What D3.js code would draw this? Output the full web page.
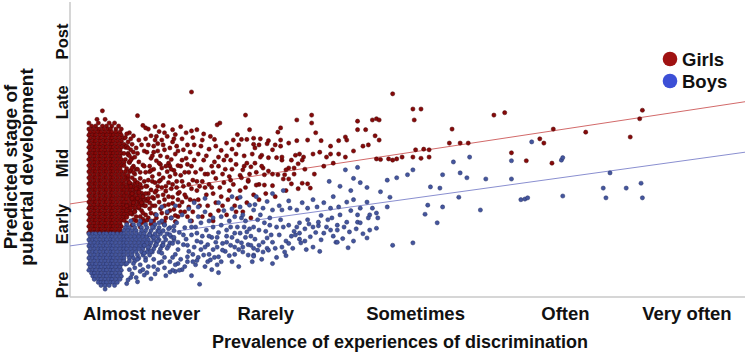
<!DOCTYPE html>
<html>
<head>
<meta charset="utf-8">
<script src="https://cdn.jsdelivr.net/npm/d3@7"></script>
<style>
  body { margin: 0; background: #fff; }
  svg { display: block; }
  text { font-family: "Liberation Sans", Arial, sans-serif; font-weight: bold; fill: #111; }
</style>
</head>
<body>
<div id="chart"></div>
<script>
// axis labels
const xTickLabels = ["Almost never", "Rarely", "Sometimes", "Often", "Very often"];
const xTickValues = [1.03, 1.95, 3.06, 4.17, 5.07];
const yTickLabels = ["Pre", "Early", "Mid", "Late", "Post"];
const yTickValues = [1, 2, 3, 4, 5];

// fitted lines (value at x = 0.5 and x = 5.5)
const fitX = [0.5, 5.5];
const girlsFit = [2.33, 4.01];
const boysFit = [1.64, 3.18];

// dense block of girls near "almost never": [stage, [discrimination values]]
const girlsCoreRows = [
  [3.86, [.74]],
  [3.72, [.70, .76]],
  [3.66, [.64, .71, .79, .83]],
  [3.61, [.66, .69, .74, .77, .81, .86]],
  [3.56, [.64, .67, .70, .72, .75, .78, .80, .84, .88]],
  [3.51, [.65, .68, .71, .73, .76, .79, .81, .84, .87]],
  [3.46, [.64, .67, .69, .72, .75, .77, .80, .82, .85, .88]],
  [3.41, [.65, .68, .71, .73, .76, .79, .81, .84, .87, .90]],
  [3.36, [.64, .67, .69, .72, .75, .77, .80, .82, .85, .88]],
  [3.31, [.65, .68, .71, .73, .76, .79, .81, .84, .87, .90]],
  [3.26, [.64, .67, .69, .72, .75, .77, .80, .82, .85, .88, .91]],
  [3.21, [.65, .68, .71, .73, .76, .79, .81, .84, .87]],
  [3.16, [.64, .67, .69, .72, .75, .77, .80, .82, .85, .88, .90, .93]],
  [3.11, [.65, .68, .71, .73, .76, .79, .81, .84, .87]],
  [3.06, [.64, .67, .69, .72, .75, .77, .80, .82, .85, .88, .91]],
  [3.01, [.65, .68, .71, .73, .76, .79, .81, .84, .87, .90, .94]],
  [2.96, [.64, .67, .69, .72, .75, .77, .80, .82, .85, .88, .90]],
  [2.91, [.65, .68, .71, .73, .76, .79, .81, .84, .87, .92]],
  [2.86, [.64, .67, .69, .72, .75, .77, .80, .82, .85, .88, .91, .94]],
  [2.81, [.65, .68, .71, .73, .76, .79, .81, .84, .87, .90]],
  [2.76, [.64, .67, .69, .72, .75, .77, .80, .82, .85, .88, .91, .93, .96]],
  [2.71, [.65, .68, .71, .73, .76, .79, .81, .84, .87, .90, .93]],
  [2.66, [.64, .67, .69, .72, .75, .77, .80, .82, .85, .88, .90, .93, .95, .98]],
  [2.61, [.65, .68, .71, .73, .76, .79, .81, .84, .87, .90, .92, .95, .97, 1.00]],
  [2.56, [.64, .67, .69, .72, .75, .77, .80, .82, .85, .88, .90, .93, .95, .98, 1.01]],
  [2.51, [.65, .68, .71, .73, .76, .79, .81, .84, .87, .90, .92, .95, .97, 1.00, 1.03]],
  [2.46, [.64, .67, .69, .72, .75, .77, .80, .82, .85, .88, .90, .93, .95, .98, 1.01, 1.04]],
  [2.41, [.65, .68, .71, .73, .76, .79, .81, .84, .87, .90, .92, .95, .98, 1.00, 1.03, 1.06]],
  [2.36, [.64, .67, .69, .72, .75, .77, .80, .82, .85, .88, .90, .93, .96, .98, 1.01, 1.04]],
  [2.31, [.65, .68, .71, .73, .76, .79, .81, .84, .87, .90, .92, .95, .97, 1.00, 1.03]],
  [2.26, [.64, .67, .69, .72, .75, .77, .80, .82, .85, .88, .90, .93, .95, .98, 1.01]],
  [2.21, [.65, .68, .71, .73, .76, .79, .81, .84, .87, .90, .92, .95, .98]],
  [2.16, [.64, .67, .69, .72, .75, .77, .80, .82, .85, .88, .90, .93, .96]],
  [2.11, [.65, .68, .71, .73, .76, .79, .81, .84, .87, .90, .92]],
  [2.06, [.64, .67, .69, .72, .75, .77, .80, .82, .85, .88, .90]],
  [2.01, [.65, .68, .71, .73, .76, .79, .81, .84, .87]],
  [1.96, [.64, .67, .69, .72, .75, .77, .80, .82, .85, .88]],
  [1.91, [.65, .68, .71, .73, .76, .79, .81, .84, .87]],
  [1.86, [.64, .67, .69, .72, .75, .77, .80, .82, .85, .88]]
];

// remaining girls: [discrimination, stage]
const girlsPoints = [
  [0.91,3.42],[0.93,3.35],[0.92,3.28],[0.95,3.22],[0.93,3.14],[0.96,3.08],[0.94,3.02],[0.97,2.95],[0.95,2.88],[0.98,2.82],
  [0.96,3.31],[0.99,3.25],[1.00,3.16],[0.98,3.10],[1.01,3.02],[0.99,2.90],[1.02,2.75],[1.00,2.68],[1.03,2.60],[1.01,2.52],
  [1.04,2.45],[1.02,2.38],[1.05,2.30],[1.03,2.22],[1.06,2.15],[1.04,2.08],[0.97,3.45],[1.01,3.38],[0.94,3.50],[1.03,3.30],
  [1.05,3.20],[1.04,2.97],[1.06,2.85],[1.05,2.70],[1.07,2.62],[1.08,2.50],[1.07,2.38],[1.09,2.25],[1.08,2.10],[1.10,2.00],
  [0.99,2.05],[0.96,1.98],[1.02,1.95],[0.92,2.02],
  [0.92,3.48],[0.95,3.40],[0.97,3.18],[0.94,3.12],[0.96,2.92],[0.93,2.80],[0.98,2.72],[0.95,2.62],[0.99,2.58],[0.96,2.50],
  [1.00,2.42],[0.97,2.35],[1.01,2.28],[0.98,2.20],[1.02,2.12],[0.99,2.12],[1.03,2.02],
  [1.08,3.30],[1.07,3.18],[1.10,3.08],[1.09,2.86],[1.11,2.70],[1.10,2.56],[1.12,2.42],[1.11,2.30],[1.13,2.16],[1.12,2.05],
  [1.15,3.32],[1.17,3.12],[1.18,2.92],[1.19,2.48],[1.20,2.30],[1.21,2.10],[1.23,3.00],[1.24,2.78],[1.26,2.44],[1.27,2.24],
  [1.29,3.28],[1.30,2.50],[1.31,2.30],[1.14,3.44],[1.18,3.38],[1.20,3.22],[1.22,2.86],[1.15,2.62],[1.25,2.58],[1.28,2.04],
  [1.17,2.72],[1.06,2.50],[1.05,2.04],[1.06,2.62],[1.08,2.42],
  [1.10,3.45],[1.13,3.38],[1.12,3.28],[1.15,3.20],[1.11,3.12],[1.14,3.04],[1.17,2.98],[1.12,2.90],[1.16,2.82],[1.19,2.76],
  [1.13,2.68],[1.18,2.60],[1.21,2.54],[1.15,2.46],[1.20,2.40],[1.23,2.32],[1.17,2.25],[1.22,2.18],[1.25,2.10],[1.19,2.02],
  [1.26,3.35],[1.24,3.25],[1.28,3.15],[1.25,3.06],[1.30,2.96],[1.27,2.88],[1.32,2.80],[1.29,2.70],[1.34,2.62],[1.31,2.52],
  [1.36,2.44],[1.33,2.36],[1.38,2.28],[1.35,2.20],[1.30,2.12],[1.40,2.05],[1.22,3.44],[1.33,3.40],[1.37,3.30],[1.39,3.18],
  [1.36,3.08],[1.40,2.95],[1.38,2.85],[1.41,2.72],[1.40,2.58],[1.42,2.38],[1.16,3.52],[1.20,3.50],[1.08,3.56],[1.28,3.47],
  [1.11,2.78],[1.24,2.95],[1.26,2.65],[1.14,2.55],[1.09,2.95],[1.06,3.40],
  [0.93,3.25],[0.95,3.05],[0.97,2.85],[0.94,2.68],[0.96,2.42],[0.92,2.30],[0.95,2.18],[0.97,2.07],[1.00,2.90],[1.02,2.65],
  [1.03,2.35],[1.04,2.18],[1.06,2.30],[1.07,2.06],[1.09,2.35],[1.10,2.18],[1.11,2.44],[1.13,2.30],[1.14,2.10],[1.16,2.36],
  [1.18,2.18],[1.20,2.04],[1.21,2.62],[1.23,2.45],[1.24,2.22],[1.26,2.34],[1.28,2.14],[1.29,2.60],[1.30,2.40],[1.32,2.20],
  [1.33,2.70],[1.35,2.48],[1.37,2.12],[1.38,2.65],[1.39,2.40],[1.41,2.20],[1.43,2.85],[1.44,2.55],[1.46,2.30],[1.48,2.70],
  [1.49,3.05],[1.51,2.48],[1.53,2.65],[1.54,2.15],[1.56,2.85],[1.58,2.35],[1.60,3.10],[1.61,2.60],[1.63,2.30],[1.65,2.90],
  [1.67,2.40],[1.69,3.05],[1.71,2.65],[1.73,2.20],[1.75,3.30],[1.76,2.55],[1.79,2.95],[1.81,2.35],[1.83,2.82],[1.85,3.15],
  [1.12,3.18],[1.16,3.00],[1.19,3.30],[1.22,3.10],[1.25,2.90],[1.27,3.40],[1.30,3.20],[1.33,3.05],[1.35,2.85],[1.36,3.50],
  [1.41,3.42],[1.45,3.15],[1.48,3.38],[1.51,3.12],[1.58,3.28],[1.60,2.95],[1.71,3.38],[1.02,2.85],[1.05,2.95],[1.08,2.72],
  [1.10,2.88],[1.13,2.52],[1.16,2.70],[1.21,2.95],[1.23,2.68],[1.28,2.82],[1.32,2.95],[1.34,3.22],[1.37,2.98],[1.42,3.05],
  [1.46,2.62],[1.50,2.82],[1.55,2.60],[1.63,2.82],[1.69,2.72],[1.73,2.98],[1.90,2.40],[1.95,2.50],[2.02,2.45],[2.10,2.55],
  [2.16,2.82],[2.24,2.90],[2.31,2.82],[2.38,2.95],[2.45,3.00],
  [1.00,3.78],[1.06,3.58],[1.13,3.60],[1.19,3.62],[1.26,3.55],[1.32,3.60],[1.04,3.62],
  [1.40,4.17],[1.61,3.66],[1.59,3.63],[1.80,3.79],[1.83,3.55],
  [1.40,3.53],[1.44,3.55],[1.49,3.48],[1.54,3.44],[1.57,3.39],[1.66,3.33],[1.74,3.47],[1.77,3.39],[1.81,3.39],[1.86,3.31],
  [1.62,3.21],[1.66,3.12],[1.70,3.23],[1.73,3.15],[1.79,3.12],[1.64,3.05],[1.57,3.02],[1.53,3.23],[1.47,3.28],[1.42,3.30],
  [1.47,2.90],[1.52,2.82],[1.58,2.75],[1.64,2.68],[1.70,2.90],[1.76,2.80],[1.82,2.70],[1.50,2.60],[1.56,2.50],[1.62,2.45],
  [1.68,2.55],[1.74,2.42],[1.80,2.60],[1.86,2.48],[1.45,2.40],[1.52,2.30],[1.60,2.22],[1.48,2.12],[1.56,2.05],[1.66,2.15],
  [1.72,2.30],[1.78,2.20],[1.84,2.10],[1.88,2.85],[1.90,2.65],[1.44,2.70],[1.55,2.95],[1.68,2.78],
  [2.18,3.71],[2.29,3.66],[2.06,3.58],[2.29,3.79],[2.63,3.69],[2.74,3.71],[2.77,3.73],[2.79,3.71],[2.69,3.55],[2.63,3.55],
  [2.32,3.50],[2.26,3.38],[2.36,3.37],[2.04,3.51],[1.97,3.37],[2.06,3.38],[2.12,3.33],[1.91,3.40],[1.86,3.41],[1.90,3.30],
  [1.96,3.32],[2.02,3.30],[2.06,3.28],[2.00,3.22],[1.92,3.13],[1.87,3.25],[2.18,3.37],[2.43,3.28],[2.49,3.37],[2.54,3.43],
  [2.55,3.38],[2.76,3.45],[2.79,3.38],[2.71,3.30],[2.67,3.28],[2.60,3.20],[2.54,3.10],[2.49,3.15],[2.43,3.15],[2.40,3.10],
  [2.35,3.18],[2.30,3.15],[2.23,3.10],[2.20,3.15],[2.17,3.13],[2.14,3.05],[2.22,3.05],[2.19,2.99],[2.16,2.92],[2.12,2.92],
  [2.10,2.89],[2.09,2.81],[2.04,2.81],[2.00,2.82],[1.97,2.87],[1.94,2.81],[1.93,2.92],[1.92,2.95],[1.87,3.00],[1.84,2.94],
  [1.81,3.00],[1.78,2.89],[1.77,2.76],[1.82,2.72],[1.88,2.64],[1.94,2.64],[2.00,2.63],[2.12,2.74],[2.14,2.66],[2.22,2.67],
  [2.26,2.66],[2.28,2.59],[2.19,2.58],[2.08,2.74],[2.07,3.05],[2.07,3.10],[2.03,3.09],[1.97,3.09],[1.91,3.10],
  [2.89,4.14],[3.04,3.89],[3.10,3.89],[3.05,3.71],[3.33,3.56],[3.64,3.79],
  [2.77,3.07],[2.80,3.06],[2.86,3.07],[2.89,3.05],[2.92,3.07],[2.96,3.10],[3.04,3.10],[3.10,3.08],[3.12,3.23],[3.06,3.22],
  [3.16,3.10],[3.16,3.22],[3.31,3.33],[3.39,3.33],[3.45,3.33],
  [3.72,3.83],[4.74,3.87],[4.72,3.73],[4.08,3.56],[4.32,3.51],[4.65,3.43],[3.98,3.40],[4.01,3.33],[3.77,3.17],[3.88,3.04],
  [4.07,3.00]
];

// dense block of boys near "almost never": [stage, [discrimination values]]
const boysCoreRows = [
  [2.05, [.95, 1.02, 1.10, 1.18]],
  [1.99, [.92, .97, 1.01, 1.06, 1.13, 1.20]],
  [1.94, [.91, .94, .98, 1.03, 1.07, 1.12, 1.16, 1.24]],
  [1.89, [.90, .93, .96, .99, 1.03, 1.06, 1.10, 1.15, 1.19, 1.27]],
  [1.84, [.64, .67, .69, .72, .75, .77, .80, .82, .85, .88, .90, .93, .96, .99, 1.02, 1.05, 1.09, 1.13, 1.17, 1.22]],
  [1.79, [.65, .68, .71, .73, .76, .79, .81, .84, .87, .90, .92, .95, .98, 1.01, 1.04, 1.07, 1.11, 1.15, 1.20, 1.25]],
  [1.74, [.64, .67, .69, .72, .75, .77, .80, .82, .85, .88, .90, .93, .96, .99, 1.02, 1.05, 1.08, 1.12, 1.16, 1.21, 1.27]],
  [1.69, [.65, .68, .71, .73, .76, .79, .81, .84, .87, .90, .92, .95, .98, 1.01, 1.04, 1.07, 1.10, 1.14, 1.19, 1.24]],
  [1.64, [.64, .67, .69, .72, .75, .77, .80, .82, .85, .88, .90, .93, .96, .99, 1.02, 1.05, 1.09, 1.13, 1.18, 1.23]],
  [1.59, [.65, .68, .71, .73, .76, .79, .81, .84, .87, .90, .92, .95, .98, 1.01, 1.04, 1.08, 1.12, 1.17]],
  [1.54, [.64, .67, .69, .72, .75, .77, .80, .82, .85, .88, .90, .93, .96, .99, 1.03, 1.07, 1.11, 1.16]],
  [1.49, [.65, .68, .71, .73, .76, .79, .81, .84, .87, .90, .93, .96, 1.00, 1.04, 1.09]],
  [1.44, [.64, .67, .69, .72, .75, .77, .80, .82, .85, .88, .90, .94, .97, 1.01, 1.06]],
  [1.39, [.65, .68, .71, .73, .76, .79, .81, .84, .87, .90, .94, .98]],
  [1.34, [.64, .67, .69, .72, .75, .77, .80, .82, .85, .88, .91]],
  [1.29, [.65, .68, .71, .73, .76, .79, .81, .84, .87]],
  [1.24, [.64, .67, .69, .72, .75, .77, .80, .82, .85, .88]],
  [1.19, [.66, .68, .71, .73, .76, .79, .81, .84, .87]],
  [1.14, [.67, .69, .72, .75, .77, .80, .82, .85, .88]],
  [1.09, [.68, .71, .73, .76, .79, .81, .84, .87]],
  [1.04, [.71, .73, .75, .77, .80, .82, .85]],
  [0.99, [.73, .76, .79, .83]],
  [0.93, [.76]]
];

// remaining boys: [discrimination, stage]
const boysPoints = [
  [1.12,1.42],[1.16,1.36],[1.20,1.45],[1.24,1.38],[1.28,1.50],[1.32,1.42],[1.18,1.52],[1.22,1.60],[1.26,1.68],[1.30,1.58],
  [1.34,1.66],[1.38,1.55],[1.42,1.62],[1.36,1.75],[1.40,1.82],[1.44,1.72],[1.48,1.80],[1.31,1.86],[1.35,1.94],[1.29,2.02],
  [1.25,2.10],[1.33,2.15],[1.39,2.05],[1.43,1.95],[1.47,2.02],[1.51,1.90],[1.55,1.78],[1.52,1.66],[1.58,1.70],[1.56,1.58],
  [1.60,1.86],[1.62,1.98],[1.56,2.10],[1.50,2.20],[1.45,2.28],[1.38,2.25],[1.42,2.35],[1.64,2.22],[1.68,2.05],[1.66,1.90],
  [1.70,1.78],[1.74,1.95],[1.72,2.12],[1.76,2.28],[1.80,2.05],[1.84,1.80],[1.82,1.66],[1.75,1.58],[1.68,1.48],[1.60,1.46],
  [1.52,1.38],[1.45,1.45],[1.35,1.30],[1.28,1.22],[1.15,1.25],[1.08,1.30],[1.02,1.22],[0.98,1.28],[1.05,1.16],[0.95,1.12],
  [1.10,1.10],[1.00,1.05],[0.92,1.02],[1.18,2.28],[1.22,2.20],[1.28,2.30],[1.14,2.15],[1.20,1.98],[1.16,1.88],[1.24,1.82],
  [1.12,1.78],[1.08,1.62],[1.14,1.66],[1.05,1.52],[1.10,1.55],[1.00,1.42],[0.97,1.35],[1.06,1.40],[1.50,2.42],[1.60,2.35],
  [1.70,2.45],[1.90,1.65],[1.92,1.42],[1.95,1.88],[1.98,1.98],[2.03,1.95],[2.03,1.45],[2.10,1.72],[2.15,1.60],[2.25,1.58],
  [2.30,1.62],[2.18,1.95],[2.24,1.92],[2.30,1.95],[2.38,1.85],[2.34,1.97],[2.45,1.80],[2.52,1.76],[2.60,1.72],[2.62,1.92],
  [2.05,2.30],[2.12,2.38],[2.22,2.35],[2.30,2.40],[2.38,2.35],[2.45,2.45],[1.96,2.37],[1.88,2.45],[2.00,2.50],[2.08,2.55],
  [0.92,1.35],[0.94,1.25],[0.96,1.18],[0.93,1.08],[0.99,1.12],[1.02,1.33],[1.04,1.25],[1.07,1.20],[1.12,1.30],[1.13,1.18],
  [1.18,1.38],[1.21,1.15],[1.26,1.45],[1.30,1.35],[1.33,1.25],[1.37,1.38],[1.41,1.50],[1.44,1.40],[1.47,1.58],[1.50,1.30],
  [1.53,1.50],[1.57,1.45],[1.59,1.62],[1.62,1.38],[1.65,1.55],[1.69,1.65],[1.72,1.50],[1.74,1.72],[1.78,1.62],[1.80,1.78],
  [1.84,1.65],[1.87,1.75],[1.90,1.90],[1.93,1.70],[1.96,1.60],[1.99,1.82],[2.02,1.60],[2.05,1.82],[2.08,1.95],[2.12,1.68],
  [2.16,1.88],[2.20,1.75],[2.24,1.72],[2.27,2.00],[2.32,1.86],[2.36,2.14],[2.40,1.95],[2.44,2.10],[2.50,2.15],[2.53,1.95],
  [2.58,2.22],[1.05,1.65],[1.09,1.82],[1.11,1.95],[1.15,1.72],[1.19,1.65],[1.23,1.92],[1.27,1.78],[1.30,1.70],[1.34,1.82],
  [1.37,1.65],[1.40,1.95],[1.44,1.85],[1.47,1.70],[1.50,1.62],[1.53,1.80],[1.56,1.95],[1.59,1.78],[1.63,1.68],[1.66,1.80],
  [1.69,1.95],[1.72,1.62],[1.76,1.85],[1.79,1.95],[1.83,1.92],[1.86,1.60],[1.16,2.02],[1.27,1.96],[1.45,2.12],[1.53,2.05],
  [1.62,2.12],[1.70,2.25],[1.77,2.10],[1.87,2.32],[1.94,2.02],[2.00,1.35],[1.75,1.30],[1.60,1.20],[1.85,1.38],[2.10,1.48],
  [2.35,1.55],[1.40,1.15],[1.55,1.25],
  [1.41,1.38],[1.43,1.33],[1.54,1.41],[1.59,1.33],[1.70,1.38],[1.77,1.69],[1.78,1.54],[1.82,1.49],[1.86,1.49],[1.46,1.01],
  [1.31,1.24],[1.26,1.24],[1.24,1.21],[1.20,1.28],[1.28,1.33],[1.37,1.46],[1.49,1.49],[1.63,1.57],[1.66,1.70],[1.72,1.85],
  [1.81,1.87],[1.86,1.95],[1.89,2.07],[1.78,2.15],[1.83,2.31],[1.76,2.44],
  [1.86,1.47],[1.89,1.57],[1.93,1.54],[1.97,1.57],[2.00,1.70],[1.96,1.77],[2.07,1.62],[2.09,1.54],[2.14,1.80],[2.17,1.82],
  [2.20,1.85],[2.21,1.69],[2.28,1.79],[2.36,1.74],[2.43,1.90],[2.47,1.70],[2.57,1.87],[2.48,1.90],[2.67,1.84],[2.70,1.77],
  [2.72,1.90],[2.63,2.03],[2.55,2.03],[2.48,1.98],[2.41,2.07],[2.34,2.03],[2.26,2.07],[2.20,2.02],[2.12,1.98],[2.06,2.07],
  [1.98,2.10],[1.91,2.15],[1.86,2.23],[1.93,2.26],[2.00,2.23],[2.07,2.23],[2.13,2.26],[2.18,2.23],[2.26,2.26],[2.33,2.28],
  [2.43,2.26],[2.49,2.28],[2.55,2.36],[2.60,2.40],[2.65,2.26],[2.70,2.36],[2.74,2.26],[2.78,2.10],[2.77,1.93],[2.72,2.15],
  [2.63,2.15],[2.56,1.61],[2.48,1.70],
  [2.54,2.89],[2.60,2.75],[2.65,2.68],[2.63,2.93],[2.70,2.60],[2.58,2.55],[2.50,2.62],[2.42,2.70],
  [3.39,2.84],[3.44,2.76],[3.58,2.74],[3.54,2.23],[3.22,2.02],[3.13,2.16],[3.04,1.69],[2.89,1.65],[3.15,2.31],[3.26,2.28],
  [3.38,2.44],[3.24,2.59],[3.17,2.61],[3.26,2.81],[3.04,2.89],[3.00,2.81],[2.92,2.76],[2.85,2.72],[2.80,2.53],[2.87,2.44],
  [2.85,2.28],[2.77,2.18],[2.71,2.10],[2.65,2.02],[3.46,3.10],[3.34,3.02],
  [3.92,3.35],[3.77,3.04],[4.14,3.05],[4.15,3.09],[4.50,2.84],[3.77,2.74],[3.84,2.40],[3.87,2.41],[3.89,2.43],[4.15,2.46],
  [4.45,2.59],[4.47,2.43],[4.62,2.59],[4.73,2.67],[4.74,2.43]
];

const legendLabels = ["Girls", "Boys"];

const width = 750, height = 356;
const margin = { left: 70, right: 5, top: 5, bottom: 59 };

const svg = d3.select("#chart").append("svg")
    .attr("width", width)
    .attr("height", height);

const x = d3.scaleLinear().domain([0.5, 5.5]).range([margin.left, width - margin.right]);
const y = d3.scaleLinear().domain([0.8, 5.6]).range([height - margin.bottom, margin.top]);

const girlsColor = "#860909", girlsStroke = "#4a0404";
const boysColor = "#44569e", boysStroke = "#263066";

// axis lines
svg.append("line")
    .attr("x1", x(0.5)).attr("x2", x(0.5))
    .attr("y1", y(5.6) - 3).attr("y2", y(0.8))
    .attr("stroke", "#c9c9c9").attr("stroke-width", 1.5);
svg.append("line")
    .attr("x1", x(0.5)).attr("x2", x(5.5))
    .attr("y1", y(0.8)).attr("y2", y(0.8))
    .attr("stroke", "#c9c9c9").attr("stroke-width", 1.5);

// fitted lines under the points
svg.append("line")
    .attr("x1", x(fitX[0])).attr("y1", y(girlsFit[0]))
    .attr("x2", x(fitX[1])).attr("y2", y(girlsFit[1]))
    .attr("stroke", "#d26a6a").attr("stroke-width", 1);
svg.append("line")
    .attr("x1", x(fitX[0])).attr("y1", y(boysFit[0]))
    .attr("x2", x(fitX[1])).attr("y2", y(boysFit[1]))
    .attr("stroke", "#8a8fd0").attr("stroke-width", 1);

const expand = rows => rows.flatMap(([s, xs]) => xs.map(v => [v, s]));
const girlsAll = expand(girlsCoreRows).concat(girlsPoints);
const boysAll = expand(boysCoreRows).concat(boysPoints);

function drawPoints(data, fill, stroke) {
    svg.append("g").selectAll("circle")
        .data(data)
        .enter().append("circle")
        .attr("cx", d => x(d[0]))
        .attr("cy", d => y(d[1]))
        .attr("r", 2.1)
        .attr("fill", fill)
        .attr("stroke", stroke)
        .attr("stroke-width", 0.5);
}
drawPoints(girlsAll, girlsColor, girlsStroke);
drawPoints(boysAll, boysColor, boysStroke);

// x tick labels
svg.append("g").selectAll("text")
    .data(xTickLabels)
    .enter().append("text")
    .attr("x", (d, i) => x(xTickValues[i]))
    .attr("y", 320)
    .attr("text-anchor", "middle")
    .style("font-size", "18.5px")
    .text(d => d);

// y tick labels, rotated
svg.append("g").selectAll("text")
    .data(yTickLabels)
    .enter().append("text")
    .attr("transform", (d, i) => `translate(68,${y(yTickValues[i])}) rotate(-90)`)
    .attr("text-anchor", "middle")
    .style("font-size", "16.5px")
    .text(d => d);

// axis titles
svg.append("text")
    .attr("x", 400)
    .attr("y", 348)
    .attr("text-anchor", "middle")
    .style("font-size", "18px")
    .text("Prevalence of experiences of discrimination");

const yTitle = svg.append("text")
    .attr("transform", "translate(0,167) rotate(-90)")
    .attr("text-anchor", "middle")
    .style("font-size", "19px");
yTitle.append("tspan").attr("x", 0).attr("y", 17).text("Predicted stage of");
yTitle.append("tspan").attr("x", 0).attr("y", 33).text("pubertal development");

// legend
const legend = svg.append("g").attr("transform", "translate(670,59)");
const legendColors = ["#a01212", "#3c4fd6"];
legendLabels.forEach((label, i) => {
    legend.append("circle")
        .attr("cx", 0).attr("cy", i * 22)
        .attr("r", 7.3)
        .attr("fill", legendColors[i]);
    legend.append("text")
        .attr("x", 12).attr("y", i * 22 + 7)
        .style("font-size", "18.5px")
        .text(label);
});
</script>
</body>
</html>
